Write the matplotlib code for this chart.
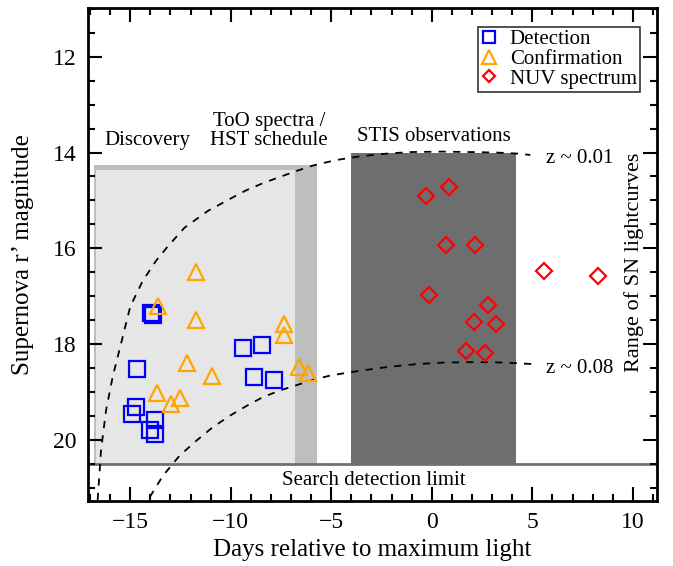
import matplotlib
matplotlib.use("Agg")
import matplotlib.pyplot as plt
from matplotlib.ticker import MultipleLocator

plt.rcParams['font.family'] = ['Liberation Serif', 'DejaVu Serif']

# detections (blue squares)
det_day = [-13.95, -13.85, -14.66, -14.73, -14.90, -13.78, -14.03, -13.78, -9.39, -8.44, -8.86, -7.85]
det_mag = [17.35, 17.40, 18.53, 19.31, 19.47, 19.58, 19.79, 19.89, 18.08, 18.03, 18.69, 18.76]

# confirmations (orange triangles)
conf_day = [-11.74, -13.62, -11.71, -7.34, -7.36, -12.17, -10.93, -13.65, -12.54, -12.97, -6.63, -6.15]
conf_mag = [16.50, 17.20, 17.49, 17.58, 17.81, 18.40, 18.66, 19.03, 19.12, 19.25, 18.49, 18.60]

# NUV spectra (red diamonds)
nuv_day = [-0.27, 0.85, 0.73, 2.17, 5.59, 8.29, -0.13, 2.80, 2.09, 3.18, 1.72, 2.66]
nuv_mag = [14.91, 14.71, 15.93, 15.93, 16.48, 16.58, 16.98, 17.18, 17.53, 17.58, 18.14, 18.18]

# template lightcurves
z01_day = [-16.62, -16.45, -16.20, -15.87, -15.45, -15.00, -14.39, -13.73, -13.13, -12.30,
           -11.14, -10.00, -9.24, -8.40, -7.56, -6.70, -5.90, -4.80, -3.75, -2.50, -1.10, 0.50, 2.00, 3.20, 4.20, 4.90]
z01_mag = [21.26, 20.21, 19.38, 18.68, 17.98, 17.22, 16.69, 16.27, 15.96, 15.57,
           15.22, 14.96, 14.79, 14.64, 14.51, 14.38, 14.27, 14.16, 14.09, 14.03, 13.99, 13.98, 13.99, 14.00, 14.02, 14.05]
z08_day = [-14.03, -13.37, -12.54, -11.71, -10.90, -10.05, -9.20, -8.40, -7.55, -6.73,
           -5.90, -5.07, -4.20, -3.42, -2.20, -0.76, 0.50, 1.72, 3.00, 4.21, 5.04]
z08_mag = [21.20, 20.75, 20.33, 20.02, 19.74, 19.50, 19.29, 19.11, 18.97, 18.86,
           18.75, 18.66, 18.60, 18.55, 18.48, 18.42, 18.39, 18.38, 18.38, 18.40, 18.42]

search_limit = 20.5

fig = plt.figure(figsize=(6.73, 5.66), dpi=100)
ax = fig.add_axes([88/673, 1 - 501/566, 569/673, 493/566])

# shaded windows
ax.fill_between([-16.82, -5.73], 14.25, search_limit, color='#bebebe', lw=0, zorder=0)
ax.fill_between([-16.72, -6.82], 14.37, search_limit, color='#e6e6e6', lw=0, zorder=0)
ax.fill_between([-4.04, 4.18], 14.0, search_limit, color='#6e6e6e', lw=0, zorder=0)

ax.axhline(search_limit, color='#707070', lw=2, zorder=1)

ax.plot(z01_day, z01_mag, ls=(0, (4, 4)), color='black', lw=1.3, zorder=2)
ax.plot(z08_day, z08_mag, ls=(0, (4, 4)), color='black', lw=1.3, zorder=2)

ax.plot(det_day, det_mag, 's', ms=11, mfc='none', mec='#0000ff', mew=1.6, label='Detection', zorder=3)
ax.plot(conf_day, conf_mag, '^', ms=12, mfc='none', mec='#ffa500', mew=1.6, label='Confirmation', zorder=3)
ax.plot(nuv_day, nuv_mag, 'D', ms=8, mfc='none', mec='#ff0000', mew=1.6, label='NUV spectrum', zorder=3)

fs = 15
ax.text(-16.3, 13.85, 'Discovery', fontsize=fs, va='baseline')
ax.text(-8.1, 13.85, 'ToO spectra /\nHST schedule', fontsize=fs, ha='center', va='baseline',
        linespacing=1.05)
ax.text(0.1, 13.75, 'STIS observations', fontsize=fs, ha='center', va='baseline')
ax.text(5.7, 14.12, 'z ~ 0.01', fontsize=fs, va='center')
ax.text(5.7, 18.52, 'z ~ 0.08', fontsize=fs, va='center')
ax.text(10.05, 16.3, 'Range of SN lightcurves', fontsize=16, rotation=90, ha='center', va='center')
ax.text(-2.9, 20.85, 'Search detection limit', fontsize=fs, ha='center', va='center')

ax.set_xlim(-17.1, 11.2)
ax.set_ylim(21.28, 10.98)
ax.xaxis.set_major_locator(MultipleLocator(5))
ax.xaxis.set_minor_locator(MultipleLocator(1))
ax.yaxis.set_major_locator(MultipleLocator(2))
ax.yaxis.set_minor_locator(MultipleLocator(0.5))
ax.tick_params(which='both', direction='in', top=True, right=True, labelsize=17, width=1.5)
ax.tick_params(which='major', length=10, pad=8)
ax.tick_params(which='minor', length=5)
for s in ax.spines.values():
    s.set_linewidth(2)

ax.set_xlabel('Days relative to maximum light', fontsize=18, labelpad=4)
ax.set_ylabel('Supernova r\u2019 magnitude', fontsize=18, labelpad=14)

leg = ax.legend(loc='upper right', bbox_to_anchor=(0.97, 0.962), fontsize=15, frameon=True,
                fancybox=False, edgecolor='black', handlelength=0.8, handletextpad=0.6,
                borderpad=0.15, labelspacing=0.0, borderaxespad=0, markerscale=0.8)
leg.get_frame().set_linewidth(1.2)

fig.savefig('out.png', dpi=100)
